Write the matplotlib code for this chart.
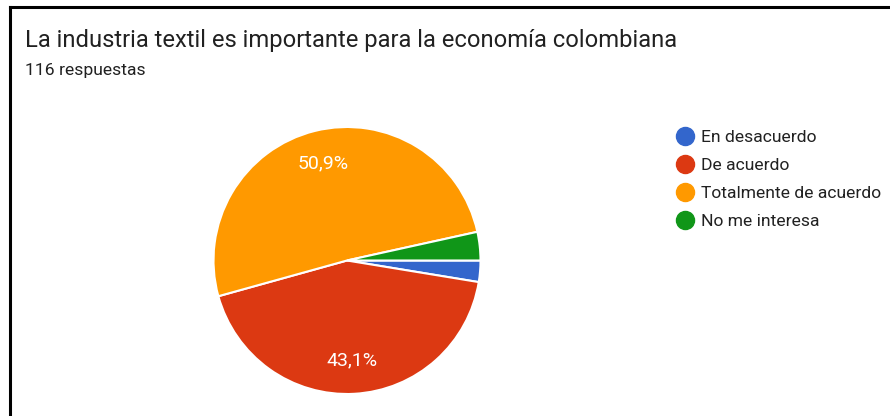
import matplotlib
matplotlib.use('Agg')
import matplotlib.pyplot as plt
from matplotlib.lines import Line2D

plt.rcParams['font.family'] = ['Roboto', 'DejaVu Sans']

# respuestas de la encuesta
categorias = ['En desacuerdo', 'De acuerdo', 'Totalmente de acuerdo', 'No me interesa']
respuestas = [3, 50, 59, 4]
colores = ['#3366CC', '#DC3912', '#FF9900', '#109618']
total = sum(respuestas)

titulo = 'La industria textil es importante para la economía colombiana'
subtitulo = str(total) + ' respuestas'

W, H = 890, 416
fig = plt.figure(figsize=(W / 100, H / 100), dpi=100)

# marco negro arriba e izquierda
fig.add_artist(Line2D([10 / W, 10 / W], [0, 1 - 7 / H], color='black', lw=2.2))
fig.add_artist(Line2D([10 / W, 1], [1 - 7 / H, 1 - 7 / H], color='black', lw=2.2))

fig.text(25 / W, 1 - 41 / H, titulo, fontsize=17.1, color='#212121', va='center')
fig.text(25 / W, 1 - 71 / H, subtitulo, fontsize=12.6, color='#212121', va='center')

# pastel
cx, cy, r = 347, 260.5, 133.5
ax = fig.add_axes([(cx - r) / W, (H - cy - r) / H, 2 * r / W, 2 * r / H])


def etiqueta(p):
    if p < 5:
        return ''
    return ('%.1f%%' % p).replace('.', ',')


wedges, textos, pcts = ax.pie(respuestas, colors=colores, startangle=0, counterclock=False,
                              autopct=etiqueta, pctdistance=0.75,
                              wedgeprops={'edgecolor': 'white', 'linewidth': 1.5})
for t in pcts:
    t.set_color('white')
    t.set_fontsize(14)
ax.set_xlim(-1, 1)
ax.set_ylim(-1, 1)
ax.axis('off')

handles = [Line2D([], [], marker='o', linestyle='', markersize=13, color=c) for c in colores]
fig.legend(handles, categorias, loc='upper left', bbox_to_anchor=(674 / W, 1 - 130 / H),
           frameon=False, fontsize=12.6, labelspacing=0.72, handletextpad=0.35,
           handlelength=1.2, borderpad=0, borderaxespad=0, labelcolor='#212121')

fig.savefig('out.png', dpi=100)
